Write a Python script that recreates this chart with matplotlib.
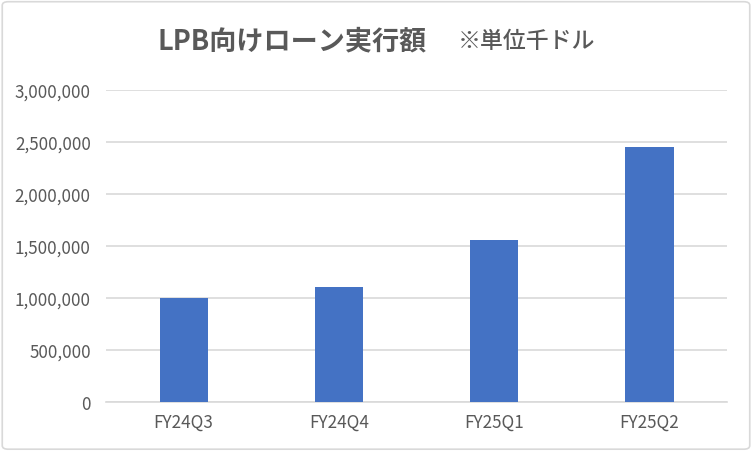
import matplotlib.pyplot as plt
from matplotlib.patches import FancyBboxPatch
from matplotlib.ticker import FuncFormatter

# ============================================================
# DATA
# ============================================================

quarters = ["FY24Q3", "FY24Q4", "FY25Q1", "FY25Q2"]
loan_amounts = [1000000, 1102000, 1555000, 2449000]
y_ticks = [0, 500000, 1000000, 1500000, 2000000, 2500000, 3000000]

title_main = "LPB向けローン実行額"
title_note = "※単位千ドル"

BAR_COLOR = "#4472C4"
TEXT_COLOR = "#595959"
GRID_COLOR = "#D9D9D9"

plt.rcParams["font.family"] = ["Noto Sans CJK JP", "DejaVu Sans"]

# ============================================================
# FIGURE
# ============================================================

fig = plt.figure(figsize=(7.52, 4.52), dpi=100)
ax = fig.add_axes([0.141, 0.109, 0.826, 0.690])

ax.bar(quarters, loan_amounts, width=0.31, color=BAR_COLOR, zorder=3)

ax.set_xlim(-0.5, len(quarters) - 0.5)
ax.set_ylim(0, 3000000)
ax.set_yticks(y_ticks)
ax.yaxis.set_major_formatter(
    FuncFormatter(lambda v, p: f"{int(v):,}")
)

ax.grid(axis="y", color=GRID_COLOR, linewidth=1.2, zorder=0)
ax.set_axisbelow(True)

for side in ["top", "right", "left"]:
    ax.spines[side].set_visible(False)
ax.spines["bottom"].set_color(GRID_COLOR)
ax.spines["bottom"].set_linewidth(1.2)

ax.tick_params(axis="both", length=0, colors=TEXT_COLOR, labelsize=12.3)
ax.tick_params(axis="x", pad=8)
ax.tick_params(axis="y", pad=11)

# title: main part bold, note part lighter
fig.text(
    157 / 752, 0.908, title_main,
    ha="left", va="center",
    fontsize=19.5, fontweight="bold", color=TEXT_COLOR
)
fig.text(
    458 / 752, 0.908, title_note,
    ha="left", va="center",
    fontsize=16.5, fontweight="medium", color=TEXT_COLOR
)

# chart border
border = FancyBboxPatch(
    (0.003, 0.004), 0.994, 0.990,
    boxstyle="round,pad=0,rounding_size=0.008",
    transform=fig.transFigure,
    facecolor="none", edgecolor=GRID_COLOR, linewidth=1.2
)
fig.patches.append(border)

fig.savefig("out.png", dpi=100)
